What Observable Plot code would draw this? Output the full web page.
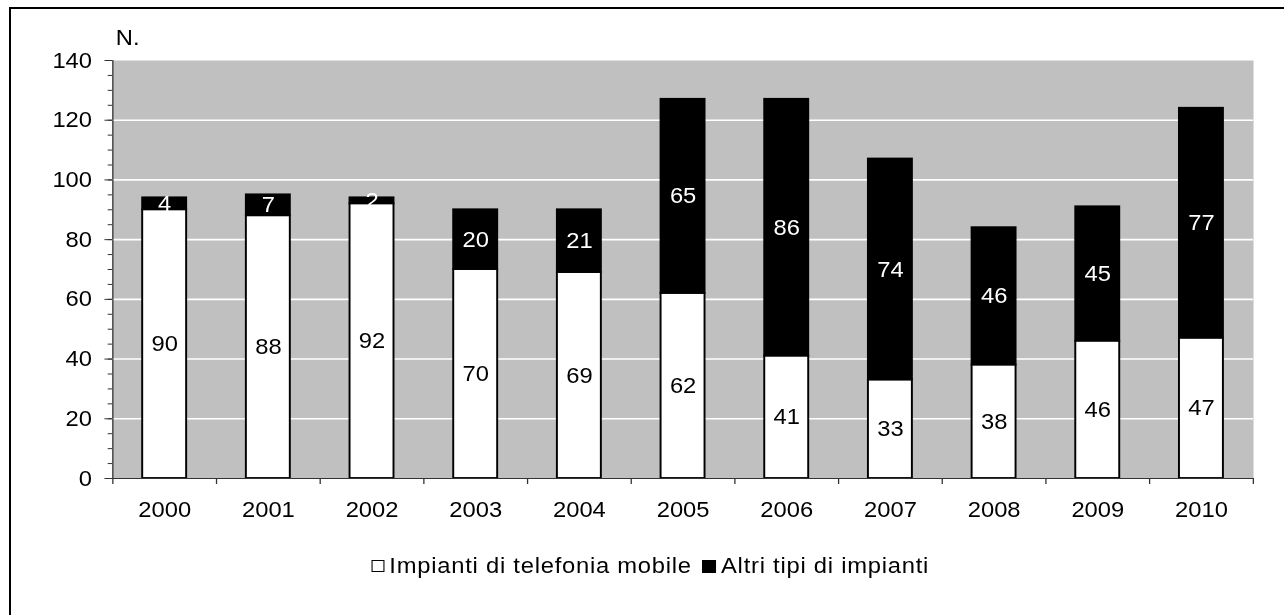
<!DOCTYPE html>
<html>
<head>
<meta charset="utf-8">
<script src="https://cdn.jsdelivr.net/npm/d3@7"></script>
<script src="https://cdn.jsdelivr.net/npm/@observablehq/plot@0.6"></script>
<style>
  html, body { margin: 0; padding: 0; background: #fff; }
  #page { position: relative; width: 1284px; height: 615px; overflow: hidden; background: #fff;
          font-family: "Liberation Sans", Arial, sans-serif; }
  #border { position: absolute; left: 9px; top: 7px; width: 1400px; height: 800px;
            border: 2.5px solid #000; box-sizing: border-box; }
  #stretch { position: absolute; left: 0; top: 0; transform-origin: 0 0; }
  #legend { position: absolute; top: 554px; display: flex; align-items: center;
            font-size: 22px; letter-spacing: 0.7px; color: #000; white-space: nowrap; line-height: 24px; }
  .sw { display: inline-block; width: 12px; height: 12px; box-sizing: border-box; margin-right: 5px; }
</style>
</head>
<body>
<div id="page">
  <div id="border"></div>
  <div id="stretch"></div>
</div>
<script>
// ---- data ----
const years = ["2000","2001","2002","2003","2004","2005","2006","2007","2008","2009","2010"];
const seriesNames = ["Impianti di telefonia mobile", "Altri tipi di impianti"];
const mobile = [90, 88, 92, 70, 69, 62, 41, 33, 38, 46, 47];
const altri  = [4, 7, 2, 20, 21, 65, 86, 74, 46, 45, 77];
const yTicks = [0, 20, 40, 60, 80, 100, 120, 140];
const yMinorTicks = d3.range(0, 141, 5);
const gridValues = [20, 40, 60, 80, 100, 120];
const yUnit = "N.";

const rows = [];
years.forEach((yr, i) => {
  rows.push({year: yr, series: seriesNames[0], value: mobile[i]});
  rows.push({year: yr, series: seriesNames[1], value: altri[i]});
});

// ---- layout (final picture px) ----
const S = 1.08;                 // horizontal stretch of the whole chart
const W = 1284 / S;
const H = 530;
const FS = 22;
const frameL = 112, frameR = 1253, frameT = 60, frameB = 478;
const mL = frameL / S, mR = (1284 - frameR) / S;
const step = (frameR - frameL) / S / years.length;
const barW = 44 / S;
const inset = (step - barW) / 2;
const font = "Liberation Sans, Arial, sans-serif";

const chart = Plot.plot({
  width: W,
  height: H,
  marginLeft: mL,
  marginRight: mR,
  marginTop: frameT,
  marginBottom: H - frameB,
  style: {fontFamily: font, fontSize: FS + "px", color: "#000", background: "transparent", overflow: "visible"},
  x: {type: "band", domain: years, padding: 0},
  y: {domain: [0, 140]},
  color: {domain: seriesNames, range: ["#ffffff", "#000000"]},
  marks: [
    Plot.frame({fill: "#c0c0c0"}),
    Plot.ruleY(gridValues, {stroke: "#ffffff", strokeWidth: 1.6}),
    Plot.barY(rows, {
      x: "year", y: "value", fill: "series", stroke: "#000", strokeWidth: 1.8,
      insetLeft: inset, insetRight: inset
    }),
    Plot.text(rows, Plot.stackY({
      x: "year", y: "value", z: "series",
      text: d => d.series === seriesNames[0] ? String(d.value) : "",
      fill: "#000", fontSize: FS
    })),
    Plot.text(rows, Plot.stackY({
      x: "year", y: "value", z: "series",
      text: d => d.series === seriesNames[1] ? String(d.value) : "",
      fill: "#fff", fontSize: FS
    })),
    // axis lines
    Plot.ruleY([0], {stroke: "#333", strokeWidth: 1.2}),
    Plot.ruleX([years[0]], {y1: 0, y2: 140, dx: -step / 2, stroke: "#333", strokeWidth: 1.2}),
    // category boundary ticks on x axis
    Plot.ruleX(years, {y1: 0, y2: 0, insetBottom: -6, dx: -step / 2, stroke: "#333", strokeWidth: 1.2}),
    Plot.ruleX([years[years.length - 1]], {y1: 0, y2: 0, insetBottom: -6, dx: step / 2, stroke: "#333", strokeWidth: 1.2}),
    // y axis: major + minor ticks
    Plot.axisY({ticks: yMinorTicks, tickSize: 4, tickFormat: () => "", stroke: "#333", label: null}),
    Plot.axisY({ticks: yTicks, tickSize: 7, tickPadding: 12, fontSize: FS, stroke: "#333", label: null}),
    Plot.axisX({tickSize: 0, tickPadding: 23, fontSize: FS, label: null}),
    Plot.text([yUnit], {frameAnchor: "top-left", text: d => d, dx: 3, dy: -23, textAnchor: "start", lineAnchor: "middle", fontSize: FS, fill: "#000"})
  ]
});

const stretch = document.getElementById("stretch");
stretch.style.width = W + "px";
stretch.style.transform = `scaleX(${S})`;
stretch.appendChild(chart);

// legend
const legend = document.createElement("div");
legend.id = "legend";
legend.style.left = (371 / S) + "px";
legend.innerHTML =
  `<span class="sw" style="background:#fff;border:1.3px solid #000"></span><span>${seriesNames[0]}</span>` +
  `<span class="sw" style="background:#000;width:13px;height:13px;margin-left:9px"></span><span>${seriesNames[1]}</span>`;
stretch.appendChild(legend);
</script>
</body>
</html>
